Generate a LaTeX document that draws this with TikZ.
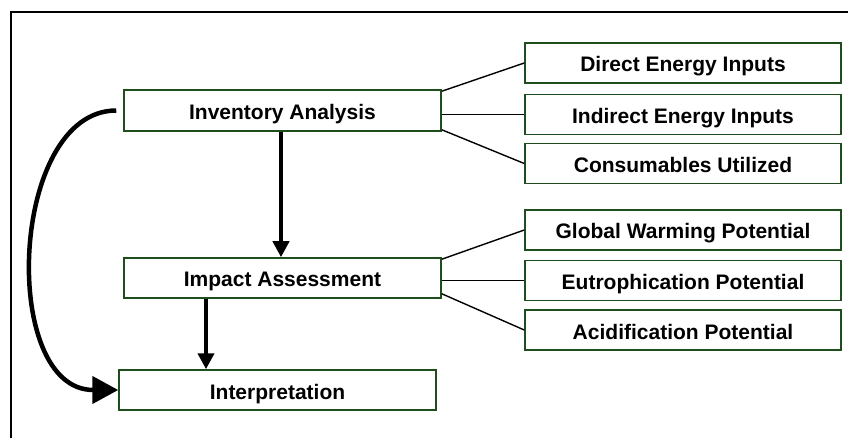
\documentclass[tikz,border=0pt]{standalone}
\usepackage{fontspec}
\setmainfont{Liberation Sans}
\usepackage{tikz}
\usetikzlibrary{arrows.meta}

\definecolor{boxgreen}{RGB}{30,78,30}

\begin{document}
\begin{tikzpicture}[x=1pt, y=-1pt,
  every node/.style={rectangle, draw=boxgreen, line width=1.5pt, inner sep=0pt,
    minimum height=40pt, text height=18pt, text depth=0pt,
    font=\fontsize{21}{24}\selectfont\bfseries},
  fase/.style={minimum width=317pt},
  voce/.style={minimum width=316pt},
  ramo/.style={line width=1.4pt},
  freccia/.style={line width=4.5pt, -{Triangle[length=16pt,width=16pt]}},
  ritorno/.style={line width=4.5pt, -{Triangle[length=26pt,width=27pt]}}]

\useasboundingbox (0,0) rectangle (848,438);

% cornice
\draw[line width=2pt] (848,12) -- (11,12) -- (11,438);

% Fasi
\node[fase, minimum height=41pt] (inv) at (282.5,110.5) {Inventory Analysis};
\node[fase] (imp) at (282.5,278) {Impact Assessment};
\node[fase] (interp) at (277.5,390) {Interpretation};

% Voci a destra
\node[voce] (dei) at (683,63) {Direct Energy Inputs};
\node[voce] (iei) at (683,114.5) {Indirect Energy Inputs};
\node[voce] (cu) at (683,163.5) {Consumables Utilized};
\node[voce] (gwp) at (683,230) {Global Warming Potential};
\node[voce] (ep) at (683,280.5) {Eutrophication Potential};
\node[voce] (ap) at (683,330) {Acidification Potential};

% Rami
\draw[ramo] ([yshift=-2pt]inv.north east) -- (dei.west);
\draw[ramo] (iei.west -| inv.east) -- (iei.west);
\draw[ramo] ([yshift=2pt]inv.south east) -- (cu.west);
\draw[ramo] ([yshift=-2pt]imp.north east) -- (gwp.west);
\draw[ramo] (ep.west -| imp.east) -- (ep.west);
\draw[ramo] ([yshift=5pt]imp.south east) -- (ap.west);

% Frecce
\draw[freccia] ([xshift=-1.5pt]inv.south) -- ([xshift=-1.5pt]imp.north);
\draw[freccia] ([xshift=-76.5pt]imp.south) -- ([xshift=-76.5pt]imp.south |- interp.north);
\draw[ritorno] ([xshift=-7pt]inv.west) .. controls +(-107,0) and +(-119,0) .. (interp.west);
\end{tikzpicture}
\end{document}
